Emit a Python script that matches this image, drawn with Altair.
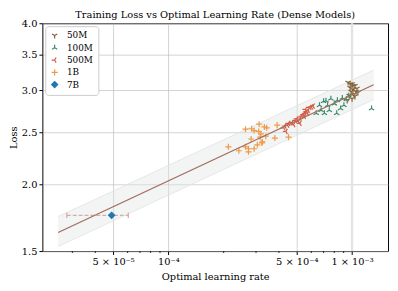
import altair as alt
import pandas as pd

groups = ["50M", "100M", "500M", "1B", "7B"]

lr_50m = [9.52e-4, 1.0e-3, 1.037e-3, 9.76e-4, 1.012e-3, 1.063e-3, 9.88e-4, 1.025e-3,
          9.64e-4, 1.037e-3, 1.0e-3, 1.076e-3, 9.41e-4, 1.012e-3, 1.05e-3, 9.76e-4]
loss_50m = [3.10, 3.08, 3.055, 3.03, 3.005, 3.02, 2.98, 2.95,
            2.93, 2.92, 2.89, 2.97, 2.87, 3.055, 2.98, 3.08]

lr_100m = [6.38e-4, 6.65e-4, 7.07e-4, 7.21e-4, 7.52e-4, 7.67e-4, 8.00e-4, 8.25e-4, 8.32e-4,
           8.66e-4, 8.85e-4, 9.03e-4, 9.60e-4, 1.277e-3, 6.78e-4, 7.36e-4, 7.0e-4, 9.3e-4]
loss_100m = [2.715, 2.81, 2.715, 2.865, 2.75, 2.89, 2.83, 2.715, 2.87,
             2.77, 2.90, 2.81, 2.93, 2.77, 2.75, 2.81, 2.86, 2.88]

lr_500m = [4.24e-4, 4.36e-4, 4.30e-4, 4.51e-4, 4.70e-4, 4.90e-4, 4.80e-4, 4.99e-4, 5.20e-4,
           5.31e-4, 5.42e-4, 5.53e-4, 5.64e-4, 5.76e-4, 5.88e-4, 6.00e-4, 6.13e-4, 5.48e-4,
           5.10e-4, 5.57e-4, 5.71e-4, 4.45e-4, 5.20e-4]
loss_500m = [2.55, 2.51, 2.57, 2.60, 2.61, 2.63, 2.585, 2.65, 2.66,
             2.68, 2.70, 2.715, 2.735, 2.75, 2.785, 2.79, 2.80, 2.68,
             2.62, 2.76, 2.715, 2.58, 2.60]

lr_1b = [2.12e-4, 2.42e-4, 2.63e-4, 2.84e-4, 2.93e-4, 3.12e-4, 3.33e-4, 3.43e-4, 3.10e-4,
         3.19e-4, 3.16e-4, 2.82e-4, 3.39e-4, 3.91e-4, 3.80e-4, 4.51e-4, 2.63e-4, 2.73e-4,
         2.93e-4, 3.05e-4, 3.23e-4, 3.25e-4, 2.73e-4]
loss_1b = [2.35, 2.31, 2.535, 2.54, 2.52, 2.59, 2.56, 2.55, 2.51,
           2.485, 2.45, 2.43, 2.46, 2.58, 2.44, 2.45, 2.35, 2.33,
           2.33, 2.37, 2.39, 2.40, 2.30]

lr_7b = [4.91e-5]
loss_7b = [1.75]
err_lr_low = [2.8e-5]
err_lr_high = [6.05e-5]

fit_lr = [2.51e-5, 1.31e-3]
fit_loss = [1.625, 3.07]
band_low = [1.53, 2.88]
band_high = [1.74, 3.27]

vline_lr = [1e-3]
x_ticks = [5e-5, 1e-4, 5e-4, 1e-3]
x_minor = [3e-5, 4e-5, 6e-5, 7e-5, 8e-5, 9e-5, 2e-4, 3e-4, 4e-4, 6e-4, 7e-4, 8e-4, 9e-4]
y_ticks = [1.5, 2.0, 2.5, 3.0, 3.5, 4.0]

W, H = 352, 232

rows = []
for g, lrs, losses in [("50M", lr_50m, loss_50m), ("100M", lr_100m, loss_100m),
                       ("500M", lr_500m, loss_500m), ("1B", lr_1b, loss_1b),
                       ("7B", lr_7b, loss_7b)]:
    for a, b in zip(lrs, losses):
        rows.append({"lr": a, "loss": b, "model": g})
pts = pd.DataFrame(rows)

fit_df = pd.DataFrame({"lr": fit_lr, "loss": fit_loss, "lo": band_low, "hi": band_high})
err_df = pd.DataFrame({"lo": err_lr_low, "hi": err_lr_high, "loss": loss_7b})
caps_df = pd.DataFrame({"lr": err_lr_low + err_lr_high, "loss": loss_7b * 2})
minor_df = pd.DataFrame({"lr": x_minor})
vline_df = pd.DataFrame({"lr": vline_lr})

xscale = alt.Scale(type="log", domain=[2.06e-5, 1.57e-3], nice=False)
yscale = alt.Scale(type="log", domain=[1.5, 4.0], nice=False)

label_expr = ("datum.value < 7e-5 ? '5 × 10⁻⁵' : datum.value < 2e-4 ? '10⁻⁴' : "
              "datum.value < 7e-4 ? '5 × 10⁻⁴' : '1 × 10⁻³'")
xaxis = alt.Axis(values=x_ticks, labelExpr=label_expr, title="Optimal learning rate",
                 titlePadding=5)
yaxis = alt.Axis(values=y_ticks, format=".1f", title="Loss")

X = lambda f="lr": alt.X(f"{f}:Q", scale=xscale, axis=xaxis)
Y = lambda f="loss": alt.Y(f"{f}:Q", scale=yscale, axis=yaxis)

band = alt.Chart(fit_df).mark_area(color="#dfe5e2", opacity=0.4).encode(
    x=X(), y=Y("lo"), y2="hi:Q")
band_edges_lo = alt.Chart(fit_df).mark_line(color="#dfe3e1", strokeWidth=0.8).encode(x=X(), y=Y("lo"))
band_edges_hi = alt.Chart(fit_df).mark_line(color="#dfe3e1", strokeWidth=0.8).encode(x=X(), y=Y("hi"))

vline = alt.Chart(vline_df).mark_rule(color="#e4e4e4", strokeWidth=2.5).encode(x=X())

minor = alt.Chart(minor_df).mark_rule(color="black", strokeWidth=0.8, clip=False).encode(
    x=X(), y=alt.value(H), y2=alt.value(H + 2))

errbar = alt.Chart(err_df).mark_rule(color="#d6adad", strokeDash=[4, 2], strokeWidth=1.3).encode(
    x=X("lo"), x2="hi:Q", y=Y())
caps = alt.Chart(caps_df).mark_point(shape="M0,-1L0,1", size=30, color="#d6adad",
                                     strokeWidth=1.3, opacity=1).encode(x=X(), y=Y())

tri_down = "M0,0L0,1M0,0L-0.87,-0.5M0,0L0.87,-0.5"
tri_up = "M0,0L0,-1M0,0L-0.87,0.5M0,0L0.87,0.5"
tri_left = "M0,0L-1,0M0,0L0.5,-0.87M0,0L0.5,0.87"
plus = "M-1,0L1,0M0,-1L0,1"

colors = ["#7f6033", "#3a8a6b", "#d45a43", "#ee9948", "#1f77b4"]
fills = ["transparent", "transparent", "transparent", "transparent", "#1f77b4"]

points = alt.Chart(pts).mark_point(strokeWidth=1.2, opacity=1).encode(
    x=X(), y=Y(),
    shape=alt.Shape("model:N", scale=alt.Scale(domain=groups,
                    range=[tri_down, tri_up, tri_left, plus, "diamond"]), title=None),
    stroke=alt.Stroke("model:N", scale=alt.Scale(domain=groups, range=colors), title=None),
    fill=alt.Fill("model:N", scale=alt.Scale(domain=groups, range=fills), title=None),
    size=alt.Size("model:N", scale=alt.Scale(domain=groups, range=[38, 38, 38, 38, 50]), title=None),
)

fit = alt.Chart(fit_df).mark_line(color="#a36b60", strokeWidth=1.3).encode(x=X(), y=Y())

chart = alt.layer(band, band_edges_lo, band_edges_hi, vline, minor, errbar, points, caps, fit).properties(
    width=W, height=H,
    title=alt.TitleParams("Training Loss vs Optimal Learning Rate (Dense Models)",
                          fontSize=10, fontWeight="normal", offset=-2, color="black",
                          frame="group"),
    padding={"left": 0, "top": 0, "right": 2, "bottom": 0},
).configure(font="DejaVu Serif").configure_view(
    stroke="black", strokeWidth=1
).configure_axis(
    domain=False, grid=True, gridColor="#b0b0b0", gridOpacity=0.7, gridWidth=0.8,
    tickColor="black", tickSize=3.5, labelFontSize=10, labelColor="black",
    titleFontSize=10, titleFontWeight="normal", titleColor="black", labelPadding=2,
    titlePadding=3,
).configure_legend(
    orient="top-left", offset=3, fillColor="white", strokeColor="#cccccc",
    cornerRadius=3, padding=5, labelFontSize=9, labelColor="black",
    rowPadding=1.5, symbolStrokeWidth=1.2, labelOffset=8,
)

chart.save("out.html", embed_options={"renderer": "svg", "actions": False})
